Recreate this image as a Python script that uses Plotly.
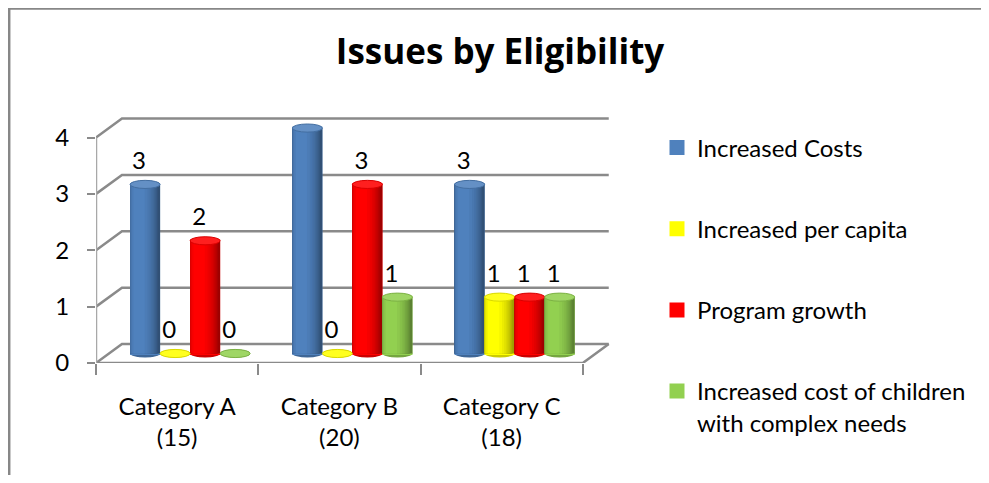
import numpy as np
import plotly.graph_objects as go

# ---------------- data ----------------
categories = ["Category A<br>(15)", "Category B<br>(20)", "Category C<br>(18)"]
series_names = ["Increased Costs", "Increased per capita", "Program growth",
                "Increased cost of children<br>with complex needs"]
increased_costs = [3, 4, 3]
increased_per_capita = [0, 0, 1]
program_growth = [2, 3, 1]
complex_needs = [0, 1, 1]
series_values = [increased_costs, increased_per_capita, program_growth, complex_needs]
series_colors = ["#4F81BD", "#FFFF00", "#FF0000", "#92D050"]
y_ticks = [0, 1, 2, 3, 4]

# ---------------- pseudo-3D geometry (axis units) ----------------
DX = 0.16      # depth offset along x (category units)
DY = 0.337     # depth offset along y (value units)
BW = 0.185     # bar (cylinder) width
R = BW / 2
ELL = 0.072    # half height of cylinder end ellipses
XMAX = 3.18
YMAX = 4.4
FONT = "Lato"
FS = 24
W, H = 973, 467   # page body has an 8px margin on every side

ML, MR, MT, MB = 88, 369, 107, 112
PW, PH = W - ML - MR, H - MT - MB


def hex2rgb(h):
    h = h.lstrip("#")
    return np.array([int(h[i:i + 2], 16) for i in (0, 2, 4)], dtype=float)


def shade(h, f):
    c = hex2rgb(h)
    if f <= 1:
        c = c * f
    else:
        c = c + (255 - c) * min(f - 1, 1)
    c = np.clip(c, 0, 255)
    return "rgb(%d,%d,%d)" % tuple(int(round(v)) for v in c)


# cylinder lighting profile across the bar (u in [-1, 1])
u = np.linspace(-1, 1, 401)
theta = np.arcsin(u)
phi = -0.45
prof = 0.62 + 0.42 * np.clip(np.cos(theta - phi), 0, None)
levels = np.linspace(prof.min(), prof.max(), 12)[:-1]

fig = go.Figure()

ncat = len(categories)
nser = len(series_values)
cat_idx = np.arange(ncat)
LW = 3                       # legend symbol outline width (px)
inner = BW - LW * XMAX / PW  # base bar width so its outline stays inside the cylinder

shapes = []
for s, (name, vals, col) in enumerate(zip(series_names, series_values, series_colors)):
    centers = cat_idx + 0.5 + (s - (nser - 1) / 2) * BW + DX / 2
    # legend / base trace
    fig.add_trace(go.Bar(
        x=centers, y=vals, base=DY / 2, width=inner, offset=-inner / 2,
        name=name, legendgroup=name, marker=dict(color=col, line=dict(color=col, width=LW)),
        hoverinfo="skip", showlegend=True))
    # shading layers (nested, lighter towards highlight)
    for lv in levels:
        inside = u[prof >= lv]
        a, b = inside.min(), inside.max()
        fig.add_trace(go.Bar(
            x=centers, y=vals, base=DY / 2, width=(b - a) * R, offset=a * R,
            legendgroup=name, showlegend=False, hoverinfo="skip",
            marker=dict(color=shade(col, lv), line=dict(width=0))))
    for xc, v in zip(centers, vals):
        # bottom ellipse
        shapes.append(dict(type="circle", xref="x", yref="y", layer="below",
                           x0=xc - R, x1=xc + R, y0=DY / 2 - ELL, y1=DY / 2 + ELL,
                           fillcolor=shade(col, 0.8), line=dict(width=0)))
        # top ellipse
        shapes.append(dict(type="circle", xref="x", yref="y", layer="above",
                           x0=xc - R, x1=xc + R, y0=DY / 2 + v - ELL, y1=DY / 2 + v + ELL,
                           fillcolor=shade(col, 1.12), line=dict(color=shade(col, 0.85), width=1)))
    # data labels
    fig.add_trace(go.Scatter(
        x=centers - 0.037, y=np.array(vals) + 0.55, text=[str(v) for v in vals],
        mode="text", textposition="middle center", xaxis="x2", yaxis="y",
        textfont=dict(family=FONT, size=FS, color="black"),
        cliponaxis=False, showlegend=False, hoverinfo="skip"))

# back wall, floor and side edges (grid)
GRID = "#8a8a8a"
for k in y_ticks:
    shapes.append(dict(type="path", xref="x", yref="y", layer="below",
                       path=f"M 0,{k} L {DX},{k + DY} L {ncat + DX},{k + DY}",
                       line=dict(color=GRID, width=2.5)))
shapes.append(dict(type="path", xref="x", yref="y", layer="below",
                   path=f"M 0,0 L {ncat},0 L {ncat + DX},{DY}",
                   line=dict(color=GRID, width=2.5)))
shapes.append(dict(type="line", xref="x", yref="y", layer="below",
                   x0=0, x1=0, y0=0, y1=max(y_ticks), line=dict(color="#a8a8a8", width=2.5)))

# chart border (only left and top edges are inside the picture)
bx0 = (1.2 - ML) / PW
bx1 = (W + 20 - ML) / PW
by0 = -(MB + 20) / PH
by1 = (PH + MT - 0.6) / PH
shapes.append(dict(type="path", xref="paper", yref="paper",
                   path=f"M {bx0},{by0} L {bx0},{by1} L {bx1},{by1}",
                   line=dict(color="#878787", width=2.5)))

fig.update_layout(
    template="none",
    width=W, height=H,
    margin=dict(l=ML, r=MR, t=MT, b=MB, autoexpand=False),
    paper_bgcolor="white", plot_bgcolor="white",
    barmode="overlay",
    font=dict(family=FONT, size=FS, color="black"),
    title=dict(text="Issues by Eligibility", x=0.5057, xref="container", xanchor="center",
               y=0.9058, yref="container", yanchor="middle",
               font=dict(family="Open Sans", size=35, color="black", weight="bold")),
    xaxis=dict(range=[0, XMAX], tickvals=list(range(ncat + 1)), showticklabels=False,
               ticks="outside", ticklen=11, tickwidth=2, tickcolor="#8a8a8a", automargin=False,
               showgrid=False, zeroline=False, showline=False, fixedrange=True),
    xaxis2=dict(range=[0, XMAX], overlaying="x", anchor="y", side="bottom",
                tickvals=list(cat_idx + 0.5), ticktext=categories, ticks="", automargin=False,
                ticklabelstandoff=27, tickfont=dict(family=FONT, size=FS),
                showgrid=False, zeroline=False, showline=False, fixedrange=True),
    yaxis=dict(range=[0, YMAX], tickvals=y_ticks, ticks="outside", ticklen=8, tickwidth=2,
               tickcolor="#8a8a8a", ticklabelstandoff=13, tickfont=dict(family=FONT, size=FS),
               automargin=False,
               showgrid=False, zeroline=False, showline=False, fixedrange=True),
    legend=dict(x=(657 - 8 - ML) / PW, xanchor="left", y=0.958, yanchor="top", maxheight=420,
                traceorder="grouped", tracegroupgap=47, valign="top",
                font=dict(family=FONT, size=FS, color="black"),
                bgcolor="rgba(0,0,0,0)"),
    shapes=shapes,
    showlegend=True,
)

fig.write_html("out.html")
